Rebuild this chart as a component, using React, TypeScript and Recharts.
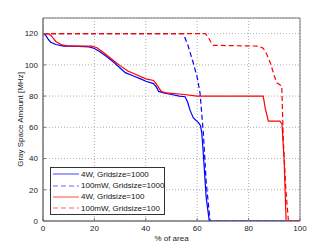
import React from 'react';
import { LineChart, Line, XAxis, YAxis, CartesianGrid, ReferenceArea, Label } from 'recharts';

const xTicks = [0, 20, 40, 60, 80, 100];
const yTicks = [0, 20, 40, 60, 80, 100, 120];

const blueSolid = [
  { x: 0, y: 120 }, { x: 1, y: 119 }, { x: 2, y: 116.5 }, { x: 3, y: 114.5 }, { x: 5, y: 113 },
  { x: 8, y: 112 }, { x: 12, y: 112 }, { x: 18, y: 111.5 }, { x: 20, y: 110.5 }, { x: 22, y: 108.5 },
  { x: 25, y: 105 }, { x: 28, y: 101 }, { x: 30, y: 98 }, { x: 32, y: 95 }, { x: 35, y: 93 },
  { x: 38, y: 91 }, { x: 40, y: 89.5 }, { x: 43, y: 88 }, { x: 44, y: 86 }, { x: 45, y: 83 },
  { x: 47, y: 82 }, { x: 50, y: 81 }, { x: 53, y: 80 }, { x: 55.3, y: 79.6 }, { x: 56.3, y: 76 },
  { x: 57.2, y: 71 }, { x: 58.5, y: 66 }, { x: 60.5, y: 63 }, { x: 61.3, y: 61 }, { x: 61.8, y: 56 },
  { x: 62.5, y: 40 }, { x: 63.5, y: 15 }, { x: 64.7, y: 0 }, { x: 100, y: 0 },
];

const blueDashed = [
  { x: 0, y: 120 }, { x: 54.6, y: 120 }, { x: 56.5, y: 112 }, { x: 58.5, y: 101 }, { x: 60, y: 92 },
  { x: 61.1, y: 82 }, { x: 62.4, y: 56 }, { x: 63.5, y: 25 }, { x: 65, y: 0 }, { x: 100, y: 0 },
];

const redSolid = [
  { x: 0, y: 120 }, { x: 2, y: 120 }, { x: 3, y: 119 }, { x: 4, y: 117 }, { x: 5, y: 115 },
  { x: 7, y: 113 }, { x: 10, y: 112 }, { x: 19, y: 112 }, { x: 21, y: 111 }, { x: 23, y: 108.5 },
  { x: 25, y: 106 }, { x: 28, y: 102 }, { x: 30, y: 99.5 }, { x: 33, y: 96 }, { x: 36, y: 94 },
  { x: 40, y: 91 }, { x: 43, y: 90 }, { x: 44, y: 88 }, { x: 46, y: 83 }, { x: 48, y: 82 },
  { x: 55, y: 81 }, { x: 60, y: 80 }, { x: 85.7, y: 80 }, { x: 86.5, y: 72 }, { x: 87.7, y: 64 },
  { x: 92.2, y: 64 }, { x: 93, y: 62 }, { x: 93.8, y: 40 }, { x: 94.6, y: 0 }, { x: 100, y: 0 },
];

const redDashed = [
  { x: 0, y: 120 }, { x: 63.2, y: 120 }, { x: 64.5, y: 117 }, { x: 65.5, y: 114 }, { x: 66.3, y: 112.5 },
  { x: 83.8, y: 112 }, { x: 85.7, y: 110.6 }, { x: 87, y: 107 }, { x: 88.5, y: 101 }, { x: 90, y: 93 },
  { x: 91, y: 88.5 }, { x: 92.9, y: 86.5 }, { x: 93.5, y: 52 }, { x: 94.5, y: 20 }, { x: 95.5, y: 0 },
  { x: 100, y: 0 },
];

const seriesNames = ['4W, Gridsize=1000', '100mW, Gridsize=1000', '4W, Gridsize=100', '100mW, Gridsize=100'];
const seriesColors = ['#0000ff', '#0000ff', '#ff0000', '#ff0000'];
const seriesDash = ['', '5 3', '', '5 3'];

const FONT = '"Liberation Sans", Arial, sans-serif';

const LegendBox = () => (
  <div
    style={{
      position: 'absolute',
      left: 50,
      top: 167,
      width: 115,
      height: 48,
      border: '1px solid #333',
      background: '#fff',
      boxSizing: 'border-box',
      fontFamily: FONT,
      fontSize: 8,
      color: '#111',
    }}
  >
    {seriesNames.map((n, i) => (
      <div key={n} style={{ position: 'absolute', left: 0, top: 6.3 + i * 11.3 - 6, height: 12, width: 112 }}>
        <svg width={30} height={12} style={{ position: 'absolute', left: 1, top: 0 }}>
          <line x1={1} x2={27} y1={6} y2={6} stroke={seriesColors[i]} strokeWidth={1.2} strokeDasharray={seriesDash[i] || undefined} strokeOpacity={0.6} />
        </svg>
        <span style={{ position: 'absolute', left: 30, top: 1.5, whiteSpace: 'nowrap', lineHeight: '9px' }}>{n}</span>
      </div>
    ))}
  </div>
);

export default function App() {
  return (
    <div style={{ position: 'absolute', left: 0, top: 0, width: 331, height: 249, background: '#fff' }}>
      <LineChart width={331} height={249} margin={{ top: 18, right: 31, bottom: 0, left: 13 }}>
        <CartesianGrid stroke="#999" strokeDasharray="1 2" strokeWidth={0.8} />
        <XAxis
          type="number"
          dataKey="x"
          domain={[0, 100]}
          ticks={xTicks}
          height={28}
          stroke="#777"
          tick={{ fill: '#222', fontSize: 8, fontFamily: FONT }}
          tickSize={-3}
          tickMargin={7}
          allowDataOverflow
        >
          <Label value="% of area" position="center" dy={3} style={{ fill: '#222', fontSize: 8, fontFamily: FONT }} />
        </XAxis>
        <YAxis
          type="number"
          domain={[0, 130]}
          ticks={yTicks}
          width={30}
          stroke="#777"
          tick={{ fill: '#222', fontSize: 8, fontFamily: FONT }}
          tickSize={-3}
          tickMargin={8}
          allowDataOverflow
        >
          <Label value="Gray Space Amount [MHz]" angle={-90} position="center" dx={-8} style={{ fill: '#222', fontSize: 8, fontFamily: FONT }} />
        </YAxis>
        <ReferenceArea x1={0} x2={100} y1={0} y2={130} fill="none" stroke="#777" strokeWidth={1} />
        <Line data={blueSolid} dataKey="y" stroke="#0000ff" strokeWidth={1.2} dot={false} isAnimationActive={false} />
        <Line data={blueDashed} dataKey="y" stroke="#0000ff" strokeWidth={1.2} strokeDasharray="5 3" dot={false} isAnimationActive={false} />
        <Line data={redSolid} dataKey="y" stroke="#ff0000" strokeWidth={1.2} dot={false} isAnimationActive={false} />
        <Line data={redDashed} dataKey="y" stroke="#ff0000" strokeWidth={1.2} strokeDasharray="5 3" dot={false} isAnimationActive={false} />
      </LineChart>
      <LegendBox />
    </div>
  );
}
